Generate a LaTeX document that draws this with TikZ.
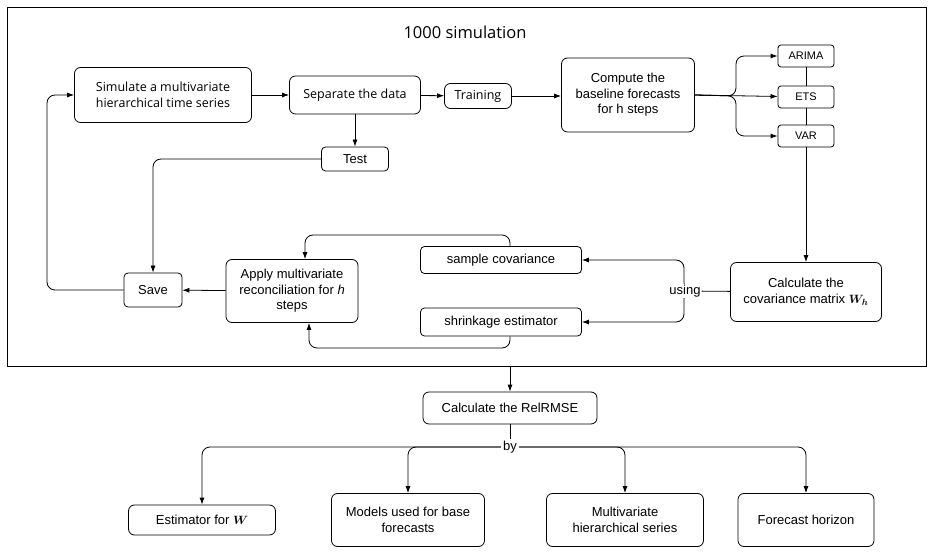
\documentclass[tikz,border=0pt]{standalone}
\usepackage{amsmath}
\usepackage{bm}
\usepackage{fontspec}
\setmainfont{Liberation Sans}
\newfontfamily\osans{Open Sans}
\usetikzlibrary{arrows.meta,backgrounds}
\begin{document}
\begin{tikzpicture}[x=1pt,y=-1pt,
  box/.style={draw,rounded corners=6pt,align=center,inner sep=0pt,font=\fontsize{13}{15.5}\selectfont,line width=0.8pt},
  ar/.style={-{Latex[length=7pt,width=5pt]},line width=0.8pt,rounded corners=8pt},
  ln/.style={line width=0.8pt,rounded corners=8pt}]
\useasboundingbox (0,0) rectangle (932,556);
\draw[line width=0.8pt] (7,7) rectangle (926,366);
\node[font=\osans\fontsize{16.5}{19}\selectfont] (title) at (465,32) {1000 simulation};
\node[box,minimum width=177,minimum height=55,font=\osans\fontsize{12.5}{16}\selectfont] (sim) at (163,95) {Simulate a multivariate\\hierarchical time series};
\node[box,minimum width=131,minimum height=38,font=\osans\fontsize{12.5}{15}\selectfont] (sep) at (355,95) {Separate the data};
\node[box,minimum width=67,minimum height=25,font=\osans\fontsize{12.5}{15}\selectfont] (tr) at (478,96) {Training};
\node[box,minimum width=133,minimum height=74] (comp) at (628,95) {Compute the\\baseline forecasts\\for h steps};
\node[box,minimum width=56,minimum height=22,rounded corners=3pt,font=\fontsize{11}{13}\selectfont] (arima) at (806,56) {ARIMA};
\node[box,minimum width=56,minimum height=22,rounded corners=3pt,font=\fontsize{11}{13}\selectfont] (ets) at (806,97) {ETS};
\node[box,minimum width=56,minimum height=22,rounded corners=3pt,font=\fontsize{11}{13}\selectfont] (var) at (806,136) {VAR};
\node[box,minimum width=151,minimum height=59] (cov) at (806,292) {Calculate the\\covariance matrix $\bm{W_h}$};
\node[box,minimum width=161,minimum height=27,rounded corners=4pt] (samp) at (501,260) {sample covariance};
\node[box,minimum width=161,minimum height=28,rounded corners=4pt] (shr) at (501,322) {shrinkage estimator};
\node[box,minimum width=132,minimum height=63] (app) at (292,291) {Apply multivariate\\reconciliation for \textit{h}\\steps};
\node[box,minimum width=58,minimum height=34,rounded corners=4pt] (save) at (153,290) {Save};
\node[box,minimum width=67,minimum height=24,rounded corners=4pt] (test) at (355,159) {Test};
\node[font=\fontsize{13}{15}\selectfont,inner sep=1pt,fill=white] (using) at (685,291) {using};
\node[box,minimum width=174,minimum height=32] (rel) at (510,408) {Calculate the RelRMSE};
\node[font=\fontsize{13}{15}\selectfont,inner sep=2pt,fill=white] (by) at (510,447) {by};
\node[box,minimum width=147,minimum height=30] (est) at (202,520) {Estimator for $\bm{W}$};
\node[box,minimum width=153,minimum height=53] (mod) at (408,520) {Models used for base\\forecasts};
\node[box,minimum width=157,minimum height=53] (mul) at (625,520) {Multivariate\\hierarchical series};
\node[box,minimum width=136,minimum height=53] (fh) at (806,520) {Forecast horizon};
\coordinate (fb) at (510,366);
% connectors
\draw[ar] (sim) -- (sep);
\draw[ar] (sep) -- (tr);
\draw[ar] (tr) -- (comp.west|-tr);
\draw[ar] (sep) -- (test);
\draw[ar] (comp.east) -- (ets);
\draw[ar] (comp.east) -- (736,96) -- (736,56) -- (arima);
\draw[ar] (comp.east) -- (736,96) -- (736,136) -- (var);
\draw[ln] (arima) -- (ets);
\draw[ln] (ets) -- (var);
\draw[ar] (var) -- (cov);
\draw[ln] (cov) -- (using);
\begin{scope}[on background layer]
\draw[ar] (using.center) -- (684,291) -- (684,260) -- (samp);
\draw[ar] (using.center) -- (684,291) -- (684,322) -- (shr);
\end{scope}
\draw[ar] (samp.north -| 510,0) -- (510,235) -- (305,235) -- (app.north -| 305,0);
\draw[ar] (shr.south -| 510,0) -- (510,348) -- (309,348) -- (app.south -| 309,0);
\draw[ar] (app) -- (save);
\draw[ar] (test) -- (153,159) -- (save);
\draw[ar] (save) -- (47,290) -- (47,95) -- (sim);
\draw[ar] (fb) -- (rel);
\draw[ln] (rel) -- (by);
\draw[ar] (by) -- (202,447) -- (est);
\draw[ar] (by) -- (408,447) -- (mod);
\draw[ar] (by) -- (625,447) -- (mul);
\draw[ar] (by) -- (806,447) -- (fh);
\end{tikzpicture}
\end{document}
